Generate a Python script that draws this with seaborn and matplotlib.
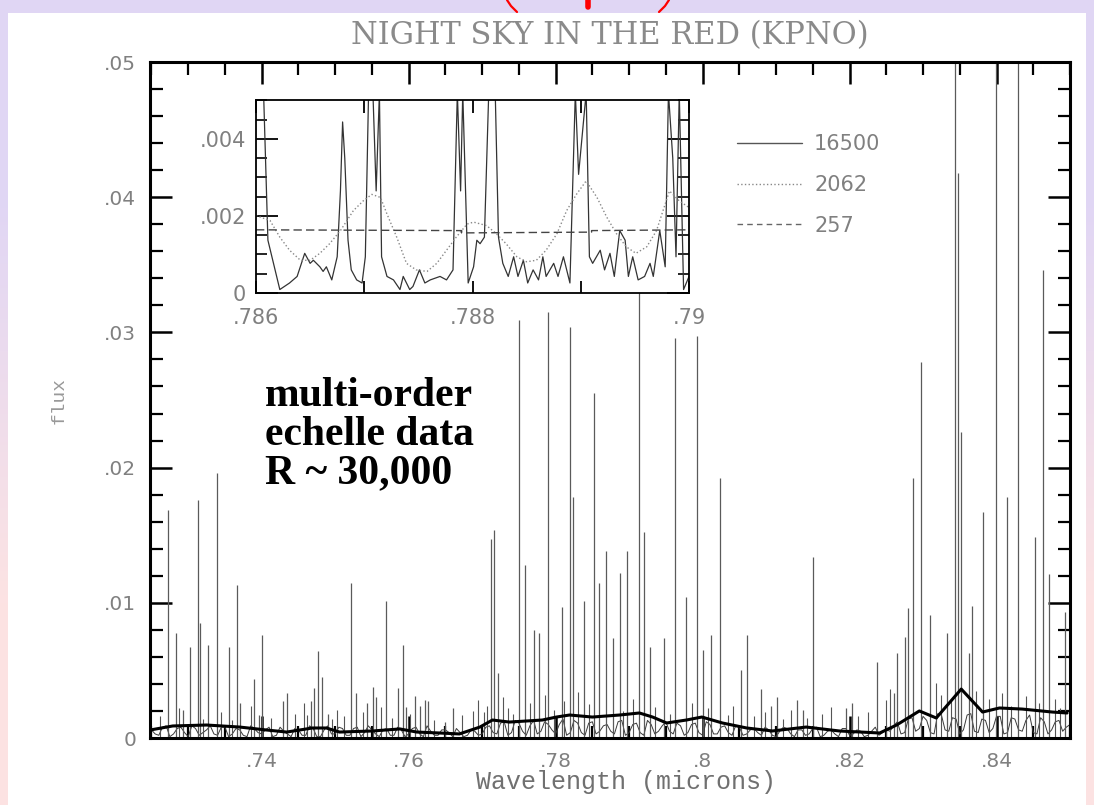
import numpy as np
import pandas as pd
import matplotlib
matplotlib.use("Agg")
import matplotlib.pyplot as plt
import seaborn as sns
from matplotlib.lines import Line2D
from matplotlib.patches import Rectangle
from matplotlib.transforms import IdentityTransform
from matplotlib.ticker import MultipleLocator, FixedLocator, FixedFormatter

# strong sky lines (wavelength in microns, peak flux)
line_wave = [.7272, .7283, .7293, .7302, .7313, .7316, .7327, .7339, .7355, .7367,
             .7371, .7390, .7397, .7400, .7429, .7435, .7467, .7471, .7476, .7482,
             .7490, .7521, .7529, .7543, .7551, .7555, .7569, .7585, .7592, .7597,
             .7608, .7615, .7622, .7627, .7650, .7660, .7712, .7716, .7722, .7750,
             .7758, .7770, .7778, .7790, .7808, .7819, .7823, .7839, .7852, .7859,
             .7868, .7878, .7887, .7897, .7913, .7920, .7929, .7947, .7963, .7978,
             .7992, .8001, .8012, .8024, .8052, .8060, .8079, .8093, .8101, .8128,
             .8137, .8150, .8195, .8204, .8238, .8260, .8265, .8276, .8280, .8287,
             .8297, .8309, .8333, .8343, .8348, .8351, .8363, .8366, .8381, .8399,
             .8414, .8429, .8452, .8463, .8471, .8493]
line_flux = [.0169, .0078, .0021, .0067, .0176, .0085, .0069, .0196, .0067, .0113,
             .0026, .0044, .0017, .0076, .0027, .0033, .0027, .0037, .0064, .0045,
             .0018, .0115, .0033, .0026, .0038, .0030, .0101, .0037, .0069, .0023,
             .0031, .0024, .0028, .0027, .0012, .0022, .0147, .0154, .0048, .0309,
             .0128, .0080, .0078, .0315, .0097, .0304, .0178, .0101, .0255, .0115,
             .0138, .0074, .0122, .0138, .0376, .0152, .0067, .0074, .0296, .0104,
             .0297, .0065, .0076, .0192, .0050, .0076, .0036, .0024, .0030, .0028,
             .0021, .0134, .0022, .0026, .0056, .0033, .0063, .0075, .0096, .0192,
             .0278, .0091, .0078, .0520, .0418, .0226, .0063, .0098, .0167, .0520,
             .0178, .0520, .0149, .0346, .0121, .0093]

# weak lines sitting in the noise (flux in units of 1e-3)
weak_wave = [.7262, .7287, .7320, .7345, .7360, .7385, .7412, .7445, .7458, .7462,
             .7495, .7502, .7512, .7538, .7562, .7578, .7602, .7635, .7672, .7688,
             .7695, .7702, .7707, .7728, .7735, .7742, .7765, .7785, .7798, .7812,
             .7830, .7845, .7892, .7905, .7935, .7955, .7985, .8008, .8035, .8042,
             .8070, .8085, .8110, .8120, .8142, .8162, .8175, .8212, .8225, .8250,
             .8255, .8318, .8325, .8338, .8372, .8390, .8408, .8420, .8440, .8458,
             .8480, .8486]
weak_flux = [1.6, 2.2, 1.4, 1.9, 1.3, 2.4, 1.5, 1.8, 2.6, 1.7,
             1.4, 2.1, 1.6, 1.9, 2.3, 1.5, 1.8, 1.3, 1.7, 2.0,
             2.8, 1.9, 2.4, 3.0, 2.2, 1.8, 2.6, 3.2, 2.1, 2.7,
             3.4, 2.5, 2.0, 2.9, 2.3, 1.8, 2.6, 2.2, 1.7, 2.4,
             1.6, 1.9, 1.4, 2.1, 1.5, 1.8, 2.3, 1.6, 1.9, 2.8,
             3.6, 4.1, 3.2, 2.7, 3.5, 2.9, 3.3, 2.4, 3.1, 2.6,
             2.9, 2.2]

# noisy continuum on whole nm (units of 1e-3)
cont_wave = np.round(np.arange(0.725, 0.8505, 0.001), 4)
cont_flux = [0.6, 0.2, 0.9, 0.3, 0.8, 0.1, 0.7, 0.4, 0.9, 0.2,
             0.8, 0.3, 0.6, 0.1, 0.7, 0.3, 0.8, 0.2, 0.5, 0.1,
             0.6, 0.2, 0.7, 0.1, 0.9, 0.3, 0.7, 0.2, 0.8, 0.4,
             0.6, 0.1, 0.7, 0.2, 0.6, 0.3, 0.8, 0.1, 0.5, 0.2,
             0.6, 0.1, 0.4, 0.2, 0.5, 0.3,
             0.9, 0.3, 1.2, 0.4, 1.1, 0.2, 1.3, 0.5, 1.0, 0.3,
             1.4, 0.4, 1.1, 0.2, 1.2, 0.5, 1.0, 0.3, 1.3, 0.4,
             1.1, 0.2, 1.0, 0.5, 1.2, 0.3, 0.9, 0.4, 1.1, 0.2,
             1.0, 0.3, 0.9, 0.2, 0.8,
             0.3, 0.7, 0.2, 0.6, 0.1, 0.8, 0.3, 0.6, 0.2, 0.7,
             0.1, 0.5, 0.3, 0.7, 0.2, 0.6, 0.1, 0.5, 0.2, 0.6,
             0.9, 0.3, 1.4, 0.5, 1.6, 0.4, 1.8, 0.6, 1.5, 0.3,
             1.7, 0.5, 1.4, 0.4, 1.6, 0.3, 1.5, 0.6, 1.3, 0.4,
             1.5, 0.3, 1.2, 0.5, 1.0]
# ... and on the half nm in between
cont_wave2 = np.round(np.arange(0.7255, 0.8500, 0.001), 4)
cont_flux2 = [0.3, 0.8, 0.1, 0.7, 0.4, 0.9, 0.2, 0.6, 0.3, 0.8,
              0.1, 0.7, 0.2, 0.9, 0.4, 0.6, 0.1, 0.8, 0.3, 0.7,
              0.2, 0.9, 0.1, 0.6, 0.3, 0.8, 0.2, 0.7, 0.1, 0.9,
              0.3, 0.6, 0.2, 0.8, 0.1, 0.7, 0.3, 0.9, 0.2, 0.6,
              0.4, 0.7, 0.1, 0.6, 0.2, 0.8,
              0.4, 1.1, 0.2, 1.3, 0.5, 0.9, 0.3, 1.2, 0.6, 1.0,
              0.2, 1.3, 0.4, 1.1, 0.3, 0.9, 0.5, 1.2, 0.2, 1.0,
              0.4, 1.3, 0.3, 0.9, 0.5, 1.1, 0.2, 1.0, 0.4, 1.2,
              0.3, 0.8, 0.4, 0.9,
              0.2, 0.6, 0.4, 0.8, 0.2, 0.5, 0.7, 0.1, 0.6, 0.3,
              0.8, 0.2, 0.6, 0.1, 0.7, 0.3, 0.5, 0.2, 0.8, 0.4,
              0.5, 1.2, 0.4, 1.5, 0.7, 1.3, 0.3, 1.7, 0.5, 1.4,
              0.6, 1.8, 0.4, 1.3, 0.7, 1.6, 0.4, 1.4, 0.5, 1.7,
              0.3, 1.2, 0.6, 1.3, 0.8]

# R = 257 smoothed spectrum
smooth_wave = [.7248, .7279, .7325, .7370, .7407, .7434, .7469, .7488, .7506, .7551,
               .7588, .7611, .7642, .7669, .7697, .7714, .7737, .7782, .7801, .7819,
               .7850, .7887, .7914, .7932, .7951, .7978, .7999, .8027, .8060, .8095,
               .8141, .8186, .8241, .8264, .8295, .8318, .8352, .8381, .8404, .8435,
               .8476, .8496]
smooth_flux = [.00059, .00089, .00096, .00081, .00059, .00044, .00074, .00074, .00044, .00052,
               .00067, .00044, .00037, .00030, .00081, .00133, .00118, .00133, .00155, .00170,
               .00155, .00170, .00185, .00155, .00111, .00133, .00155, .00111, .00074, .00052,
               .00081, .00052, .00037, .00096, .00200, .00148, .00362, .00192, .00222, .00214,
               .00192, .00185]

# inset: R = 16500 (flux in units of 1e-3)
ins_wave = [.78600, .78607, .78611, .78622, .78631, .78638, .78645, .78650, .78653, .78659,
            .78662, .78665, .78670, .78675, .78678, .78680, .78682, .78685, .78688, .78693,
            .78698, .78701, .78704, .78708, .78711, .78714, .78716, .78721, .78727, .78733,
            .78736, .78742, .78745, .78751, .78756, .78761, .78770, .78776, .78782, .78786,
            .78789, .78791, .78796, .78801, .78804, .78807, .78811, .78815, .78821, .78824,
            .78828, .78833, .78838, .78842, .78847, .78851, .78856, .78861, .78865, .78868,
            .78875, .78879, .78884, .78890, .78895, .78898, .78905, .78908, .78911, .78918,
            .78922, .78927, .78931, .78936, .78941, .78944, .78948, .78953, .78959, .78964,
            .78967, .78973, .78978, .78981, .78985, .78988, .78991, .78995, .79000]
ins_hi = [5.2, 5.2, 1.37, 0.09, 0.26, 0.43, 1.03, 0.77, 0.85, 0.68,
          0.56, 0.68, 0.34, 0.94, 2.65, 4.44, 3.50, 1.37, 0.60, 0.34,
          0.26, 0.94, 5.2, 5.2, 2.65, 5.2, 0.94, 0.43, 0.34, 0.09,
          0.43, 0.09, 0.17, 0.60, 0.26, 0.34, 0.43, 0.34, 0.60, 5.2,
          2.65, 5.2, 0.26, 0.68, 1.37, 1.28, 1.45, 5.2, 5.2, 1.45,
          0.77, 0.43, 0.94, 0.43, 0.85, 0.26, 0.60, 0.34, 0.94, 0.43,
          0.77, 0.43, 0.94, 0.26, 5.2, 3.08, 5.2, 0.94, 0.77, 1.11,
          0.60, 1.03, 0.43, 1.62, 1.37, 0.43, 0.94, 0.34, 0.43, 0.77,
          0.43, 1.62, 0.68, 5.2, 3.5, 0.94, 5.2, 0.09, 0.43]

# inset: R = 2062
mid_wave = [.78600, .78613, .78622, .78631, .78641, .78650, .78659, .78668, .78678, .78690,
            .78699, .78707, .78715, .78721, .78730, .78739, .78748, .78758, .78767, .78776,
            .78785, .78795, .78801, .78813, .78822, .78831, .78841, .78850, .78859, .78868,
            .78878, .78887, .78896, .78905, .78915, .78924, .78933, .78942, .78951, .78961,
            .78970, .78978, .78982, .78991, .79000]
mid_flux = [2.01, 1.88, 1.45, 1.11, 0.85, 0.85, 1.03, 1.28, 1.62, 2.14,
            2.39, 2.56, 2.48, 2.05, 1.45, 0.77, 0.60, 0.56, 0.77, 1.11,
            1.45, 1.79, 1.84, 1.75, 1.54, 1.28, 0.94, 0.81, 0.85, 1.11,
            1.54, 2.14, 2.56, 2.91, 2.48, 1.97, 1.54, 1.20, 1.03, 1.20,
            1.62, 2.31, 2.65, 2.39, 2.22]

# inset: R = 257
low_wave = [.7860, .7879, .7879, .7891, .7891, .7900]
low_flux = [1.64, 1.62, 1.56, 1.58, 1.62, 1.64]

xticks = [.74, .76, .78, .80, .82, .84]
xtick_labels = ['.74', '.76', '.78', '.8', '.82', '.84']
yticks = [0, .01, .02, .03, .04, .05]
ytick_labels = ['0', '.01', '.02', '.03', '.04', '.05']
ins_xticks = [.786, .787, .788, .789, .790]
ins_xtick_labels = ['.786', '', '.788', '', '.79']
ins_yticks = [0, .002, .004]
ins_ytick_labels = ['0', '.002', '.004']
legend_labels = ['16500', '2062', '257']

sns.set_theme(style="ticks")
plt.rcParams['font.family'] = ['DejaVu Sans']
grey = '#808080'

W, H = 1094, 805
fig = plt.figure(figsize=(W / 100, H / 100), dpi=100)

# slide background: lavender/pink border with white page
bg = fig.add_axes([0, 0, 1, 1], zorder=-3)
grad = np.array([[0.88, 0.84, 0.96], [0.99, 0.89, 0.89]])
bg.imshow(grad.reshape(2, 1, 3), aspect='auto', extent=[0, 1, 0, 1], interpolation='bilinear')
bg.set_axis_off()
# bits of a red oval peeking in above the page (pixel coordinates)
for xs in ([507, 511, 517], [669, 665, 659]):
    fig.lines.append(Line2D(xs, [H, H - 6, H - 12], color='red', lw=1.6,
                            transform=IdentityTransform(), figure=fig, zorder=-2))
fig.lines.append(Line2D([588, 588], [H, H - 7], color='red', lw=4,
                        transform=IdentityTransform(), figure=fig, zorder=-2))
fig.patches.append(Rectangle((8 / W, 0), (W - 16) / W, (H - 13) / H, facecolor='white',
                             edgecolor='none', transform=fig.transFigure, figure=fig, zorder=-1))

ax = fig.add_axes([150 / W, 1 - 738 / H, 920 / W, 676 / H])
ax.set_facecolor('white')

cont = pd.concat([pd.DataFrame({'wave': cont_wave, 'flux': cont_flux}),
                  pd.DataFrame({'wave': cont_wave2, 'flux': cont_flux2})])
cont = cont.sort_values('wave')
cont['flux'] = cont['flux'] * 1e-3
sns.lineplot(data=cont, x='wave', y='flux', ax=ax, color='#3a3a3a', lw=0.7,
             estimator=None, sort=False)
ax.vlines(weak_wave, 0, np.array(weak_flux) * 1e-3, color='#555555', lw=0.8)
ax.vlines(line_wave, 0, line_flux, color='#5a5a5a', lw=0.9)
smooth = pd.DataFrame({'wave': smooth_wave, 'flux': smooth_flux})
sns.lineplot(data=smooth, x='wave', y='flux', ax=ax, color='black', lw=2.2,
             estimator=None, sort=False)

ax.set_xlim(.7248, .85)
ax.set_ylim(0, .05)
ax.xaxis.set_major_locator(FixedLocator(xticks))
ax.xaxis.set_major_formatter(FixedFormatter(xtick_labels))
ax.xaxis.set_minor_locator(MultipleLocator(0.005))
ax.yaxis.set_major_locator(FixedLocator(yticks))
ax.yaxis.set_major_formatter(FixedFormatter(ytick_labels))
ax.yaxis.set_minor_locator(MultipleLocator(0.002))
ax.tick_params(which='both', direction='in', top=True, right=True, color='black',
               labelsize=14.5, labelcolor=grey)
ax.tick_params(which='major', length=16, width=1.8, pad=10)
ax.tick_params(which='minor', length=9, width=1.6)
for s in ax.spines.values():
    s.set_linewidth(2.2)
    s.set_color('black')
ax.set_xlabel('Wavelength (microns)', family='Liberation Mono', fontsize=18, color='#707070',
              labelpad=0)
ax.xaxis.set_label_coords(0.517, -0.048, transform=ax.transAxes)
ax.xaxis.label.set_va('top')
ax.set_ylabel('flux', family='Liberation Mono', fontsize=14, color='#999999', labelpad=26)
ax.set_title('NIGHT SKY IN THE RED (KPNO)', family='DejaVu Serif', fontsize=22,
             color='#8a8a8a', pad=13)

handles = [Line2D([], [], color='#555555', lw=1.0),
           Line2D([], [], color='#888888', lw=1.0, ls=':'),
           Line2D([], [], color='#666666', lw=1.0, ls=(0, (4, 3)))]
ax.legend(handles, legend_labels, loc='upper left', bbox_to_anchor=(737 / W, 1 - 134 / H),
          bbox_transform=fig.transFigure, frameon=False, fontsize=15, labelcolor=grey,
          handlelength=3.1, handletextpad=0.6, labelspacing=1.0, borderpad=0, borderaxespad=0)

fig.text(265 / W, 1 - 377 / H, 'multi-order\nechelle data\nR ~ 30,000', family='Liberation Serif',
         fontweight='bold', fontsize=30, va='top', ha='left', linespacing=1.02, color='black')

# inset zoom on 0.786-0.790
ins = fig.add_axes([256 / W, 1 - 293 / H, 433 / W, 193 / H])
ins.set_facecolor('white')
hi = pd.DataFrame({'wave': ins_wave, 'flux': np.array(ins_hi) * 1e-3})
sns.lineplot(data=hi, x='wave', y='flux', ax=ins, color='#333333', lw=0.9,
             estimator=None, sort=False)
mid = pd.DataFrame({'wave': mid_wave, 'flux': np.array(mid_flux) * 1e-3})
sns.lineplot(data=mid, x='wave', y='flux', ax=ins, color='#888888', lw=1.0, ls=':',
             estimator=None, sort=False)
low = pd.DataFrame({'wave': low_wave, 'flux': np.array(low_flux) * 1e-3})
sns.lineplot(data=low, x='wave', y='flux', ax=ins, color='#444444', lw=1.0, ls=(0, (6, 3)),
             estimator=None, sort=False)
ins.set_xlim(.786, .790)
ins.set_ylim(0, .00501)
ins.xaxis.set_major_locator(FixedLocator(ins_xticks))
ins.xaxis.set_major_formatter(FixedFormatter(ins_xtick_labels))
ins.yaxis.set_major_locator(FixedLocator(ins_yticks))
ins.yaxis.set_major_formatter(FixedFormatter(ins_ytick_labels))
ins.yaxis.set_minor_locator(MultipleLocator(0.0005))
ins.tick_params(which='both', direction='in', top=True, right=True, color='black',
                labelsize=15, labelcolor=grey)
ins.tick_params(axis='x', which='major', length=9, width=1.3, pad=11)
ins.tick_params(axis='y', which='major', length=16, width=1.3, pad=7)
ins.tick_params(axis='y', which='minor', length=8, width=1.2)
for s in ins.spines.values():
    s.set_linewidth(1.3)
    s.set_color('black')
ins.set_xlabel('')
ins.set_ylabel('')

fig.savefig('out.png', dpi=100)
